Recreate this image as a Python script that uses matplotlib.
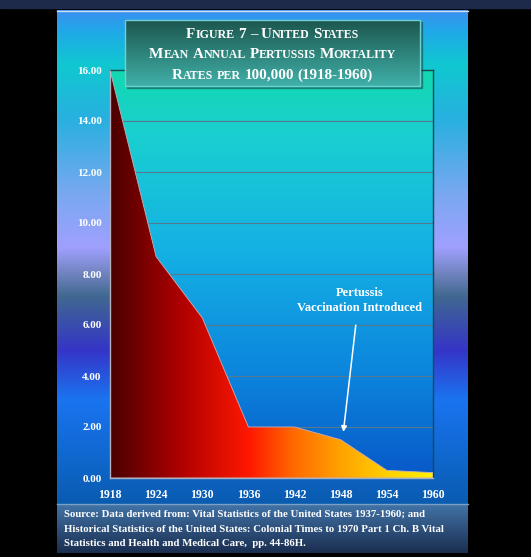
import matplotlib
matplotlib.use('Agg')
import matplotlib.pyplot as plt
import numpy as np
from matplotlib.colors import LinearSegmentedColormap
from matplotlib.patches import Polygon, Rectangle

# data
years = [1918, 1924, 1930, 1936, 1942, 1948, 1954, 1960]
rates = [16.0, 8.68, 6.28, 2.0, 2.0, 1.5, 0.3, 0.21]
yticks = [0, 2, 4, 6, 8, 10, 12, 14, 16]
title_lines = ['Figure 7 – United States',
               'Mean Annual Pertussis Mortality',
               'Rates per 100,000 (1918-1960)']
source_lines = ['Source: Data derived from: Vital Statistics of the United States 1937-1960; and',
                'Historical Statistics of the United States: Colonial Times to 1970 Part 1 Ch. B Vital',
                'Statistics and Health and Medical Care,  pp. 44-86H.']
note = 'Pertussis\nVaccination Introduced'

W, H = 531, 557
font = dict(family='Liberation Serif', weight='bold', color='white')

fig = plt.figure(figsize=(W / 100, H / 100), dpi=100, facecolor='black')


def pixel_axes(z):
    a = fig.add_axes([0, 0, 1, 1], zorder=z)
    a.set_xlim(0, W)
    a.set_ylim(H, 0)
    a.axis('off')
    a.patch.set_visible(False)
    return a


bg = pixel_axes(0)
fg = pixel_axes(10)


def cmap(stops):
    return LinearSegmentedColormap.from_list('c', stops)


def vgrad(a, x0, x1, y0, y1, stops, z=0):
    g = np.linspace(0, 1, 256).reshape(-1, 1)
    a.imshow(g, extent=[x0, x1, y1, y0], origin='upper', aspect='auto',
             cmap=cmap(stops), zorder=z, interpolation='bilinear')


# top strip and panel
bg.add_patch(Rectangle((0, 0), W, 8, color='#1e2a4a', zorder=0))
px0, px1, py0, py1 = 57, 468, 10, 553
vgrad(bg, px0, px1, py0, 504, [
    (0.00, '#3a90f0'), (0.04, '#20a8e8'), (0.11, '#10c8d0'), (0.22, '#28b0e0'),
    (0.37, '#78a8f0'), (0.48, '#a0a0ff'), (0.54, '#6a80b8'), (0.58, '#406890'),
    (0.69, '#3535c8'), (0.79, '#1a74f0'), (0.90, '#1068d0'), (1.00, '#0a5cb0')], z=1)
vgrad(bg, px0, px1, 504, py1, [(0, '#4274a8'), (1, '#1a2e50')], z=1)
bg.plot([px0, px1], [504, 504], color='#7aa0c8', lw=1, zorder=2)
bg.plot([px0, px1], [py0 + 0.5, py0 + 0.5], color='#d0e0f0', lw=1, zorder=2)

# title box
bx0, bx1, by0, by1 = 125, 420, 20, 86
fg.add_patch(Rectangle((bx0 + 2, by0 + 2), bx1 - bx0, by1 - by0, color='#10504a', alpha=0.5, zorder=5))
vgrad(fg, bx0, bx1, by0, by1, [(0, '#1c564e'), (1, '#40b0a8')], z=6)
fg.add_patch(Rectangle((bx0, by0), bx1 - bx0, by1 - by0, fill=False, ec='#70d0d0', lw=1, zorder=7))

r = fig.canvas.get_renderer()


def tw(s, size):
    t = fg.text(0, 0, s, fontsize=size, **font)
    w = t.get_window_extent(renderer=r).width
    t.remove()
    return w


def smallcaps(cx, y, s, big=10.9, small=8.6):
    pieces = []
    sp = tw('M M', big) - tw('MM', big)
    for i, word in enumerate(s.split(' ')):
        if i:
            pieces.append(('', sp))
        run, low = '', None
        for c in word:
            cl = c.islower()
            if low is not None and cl != low:
                pieces.append((run.upper(), small if low else big))
                run = ''
            run += c
            low = cl
        pieces.append((run.upper(), small if low else big))
    widths = [p[1] if p[0] == '' else tw(p[0], p[1]) for p in pieces]
    x = cx - sum(widths) / 2
    for (txt, size), w in zip(pieces, widths):
        if txt:
            fg.text(x, y, txt, fontsize=size, va='baseline', ha='left', zorder=8, **font)
        x += w


for line, yb in zip(title_lines, [38, 58, 79]):
    smallcaps((bx0 + bx1) / 2, yb, line)

for line, yy in zip(source_lines, [514, 529, 543]):
    bg.text(64, yy, line, fontsize=7.75, va='center', ha='left', zorder=8, **font)

# plot area
ax0, ax1, ay0, ay1 = 110, 433, 70, 478
ax = fig.add_axes([ax0 / W, 1 - ay1 / H, (ax1 - ax0) / W, (ay1 - ay0) / H], zorder=3)
ax.patch.set_visible(False)
ax.set_xlim(years[0], years[-1])
ax.set_ylim(0, 16)
g = np.linspace(0, 1, 256).reshape(-1, 1)
ax.imshow(g, extent=[years[0], years[-1], 0, 16], origin='upper', aspect='auto', zorder=0,
          cmap=cmap([(0, '#12d8b0'), (0.15, '#1ad0d0'), (0.45, '#14b0e4'), (0.75, '#0c84dc'), (1, '#0858c8')]))
for t in yticks[1:-1]:
    ax.axhline(t, color='#587890', lw=0.8, zorder=1)

gx = np.linspace(0, 1, 256).reshape(1, -1)
im = ax.imshow(gx, extent=[years[0], years[-1], 0, 16], aspect='auto', zorder=2,
               cmap=cmap([(0, '#4a0000'), (0.22, '#b00000'), (0.43, '#ff1800'),
                          (0.57, '#ff6a00'), (0.71, '#ffa000'), (0.86, '#ffd000'), (1, '#fff000')]))
poly = Polygon(list(zip(years, rates)) + [(years[-1], 0), (years[0], 0)], closed=True,
               fc='none', ec='#c8b0b8', lw=0.6, zorder=3)
ax.add_patch(poly)
im.set_clip_path(poly)

for s in ['top', 'right']:
    ax.spines[s].set_color('#1a4a50')
    ax.spines[s].set_linewidth(1)
for s in ['left', 'bottom']:
    ax.spines[s].set_color('#a8b0c0')
    ax.spines[s].set_linewidth(1)

ax.set_yticks(yticks)
ax.set_yticklabels(['%.2f' % v for v in yticks])
ax.set_xticks(years)
ax.set_xticklabels([str(y) for y in years])
ax.tick_params(length=0)
ax.tick_params(axis='y', pad=6)
ax.tick_params(axis='x', pad=8)
for lab in ax.get_yticklabels():
    lab.set(fontsize=8.0, **font)
for lab in ax.get_xticklabels():
    lab.set(fontsize=8.5, **font)

ax.annotate('', xy=(1948.3, 1.7), xytext=(1950.0, 6.1),
            arrowprops=dict(arrowstyle='-|>', color='white', lw=1.1, mutation_scale=8), zorder=5)
ax.text(1950.4, 6.95, note, ha='center', va='center', fontsize=9.0, linespacing=1.3, zorder=5, **font)

fig.savefig('out.png', dpi=100, facecolor='black')
